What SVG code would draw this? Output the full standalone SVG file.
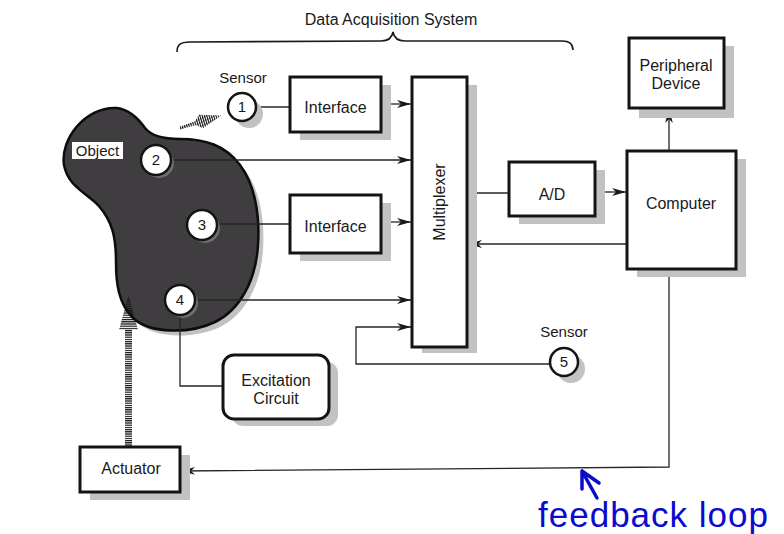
<svg xmlns="http://www.w3.org/2000/svg" width="784" height="534" viewBox="0 0 784 534">
  <style>
    .box { fill: #ffffff; stroke: #141414; stroke-width: 3; }
    .shadow { fill: #c2c2c2; }
    .node { fill: #ffffff; stroke: #141414; stroke-width: 2.5; }
    .lbl { font-family: "Liberation Sans", Arial, sans-serif; font-size: 16px; fill: #1a1a1a; text-anchor: middle; }
    .num { font-family: "Liberation Sans", Arial, sans-serif; font-size: 15px; fill: #1a1a1a; text-anchor: middle; }
    .wire { fill: none; stroke: #262626; stroke-width: 1.3; }
    .arrow { marker-end: url(#head); }
    .note { fill: #0b0bcf; }
  </style>
  <defs>
    <marker id="head" viewBox="0 0 14 9" refX="14" refY="4.5" markerWidth="14" markerHeight="9" markerUnits="userSpaceOnUse" orient="auto">
      <path d="M0,0.6 L14,4.5 L0,8.4 L4,4.5 Z" fill="#1a1a1a"/>
    </marker>
    <!-- fine horizontal hatching for the actuation arrow -->
    <pattern id="hstripe" width="4" height="2.2" patternUnits="userSpaceOnUse">
      <rect width="4" height="1.2" fill="#111111"/>
    </pattern>
    <!-- fine vertical hatching for the sensing arrow -->
    <pattern id="vstripe" width="2.2" height="4" patternUnits="userSpaceOnUse">
      <rect width="1.2" height="4" fill="#111111"/>
    </pattern>
  </defs>

  <rect width="784" height="534" fill="#ffffff"/>

  <!-- brace over the data acquisition blocks -->
  <g id="title">
    <text class="lbl" x="391" y="25">Data Acquisition System</text>
    <path d="M177,52 C177,45 180,42 190,42 L381,41 C388,41 392,38 393,32 C394,38 398,41 405,41 L562,41 C569,41 573,44 573,50" fill="none" stroke="#1a1a1a" stroke-width="1.6"/>
  </g>

  <!-- measured object with its sensor points -->
  <g id="object">
    <path transform="translate(5,5)" class="shadow" d="M117,108 C130,110 138,118 145,128 C152,137 165,139 180,139 C205,139 225,145 240,165 C255,185 260,215 258,245 C256,280 240,310 215,322 C190,334 150,334 133,318 C118,303 116,282 116,262 C116,238 113,222 98,205 C85,192 68,186 64,165 C60,140 85,106 117,108 Z"/>
    <path d="M117,108 C130,110 138,118 145,128 C152,137 165,139 180,139 C205,139 225,145 240,165 C255,185 260,215 258,245 C256,280 240,310 215,322 C190,334 150,334 133,318 C118,303 116,282 116,262 C116,238 113,222 98,205 C85,192 68,186 64,165 C60,140 85,106 117,108 Z" fill="#3f3d3f" stroke="#0d0d0d" stroke-width="2.5"/>
    <rect x="72" y="142" width="51" height="17" fill="#ffffff"/>
    <text class="lbl" x="97.5" y="156" style="font-size:15px">Object</text>
  </g>

  <!-- connectors -->
  <g id="connectors">
    <line class="wire" x1="256" y1="107" x2="290" y2="107"/>
    <line class="wire arrow" x1="381" y1="104" x2="411" y2="104"/>
    <line class="wire arrow" x1="171" y1="160" x2="411" y2="160"/>
    <line class="wire" x1="217" y1="224" x2="290" y2="224"/>
    <line class="wire arrow" x1="381" y1="222" x2="411" y2="222"/>
    <line class="wire arrow" x1="195" y1="300" x2="411" y2="300"/>
    <polyline class="wire" points="180,315 180,386 223,386"/>
    <polyline class="wire arrow" points="550,364 356,364 356,327 411,327"/>
    <line class="wire" x1="467" y1="193" x2="509" y2="193"/>
    <line class="wire arrow" x1="595" y1="192" x2="626" y2="192"/>
    <line class="wire arrow" x1="627" y1="244" x2="468" y2="244"/>
    <line class="wire arrow" x1="669" y1="151" x2="669" y2="109"/>
    <polyline class="wire arrow" points="669,269 669,467 181,471"/>
    <!-- hatched sensing arrow from the object towards sensor 1 -->
    <g transform="translate(180,128) rotate(-17)">
      <polygon points="0,-1.6 16,-1.8 22,-7 43,0 22,7 16,1.8 0,1.6" fill="url(#vstripe)"/>
    </g>
    <!-- hatched actuation arrow from the actuator into the object -->
    <g>
      <rect x="125" y="329" width="7" height="118" fill="url(#hstripe)"/>
      <polygon points="119,330 128.5,295 138,330" fill="url(#hstripe)"/>
    </g>
  </g>

  <g id="sensor-1">
    <text class="lbl" x="243" y="83" style="font-size:15px">Sensor</text>
    <circle class="shadow" cx="249" cy="114" r="14"/>
    <circle class="node" cx="242" cy="107" r="14"/>
    <text class="num" x="242" y="112">1</text>
  </g>
  <g id="sensor-2">
    <circle cx="159" cy="163" r="15" fill="#6e6e6e"/>
    <circle class="node" cx="156" cy="160" r="15"/>
    <text class="num" x="156" y="165">2</text>
  </g>
  <g id="sensor-3">
    <circle cx="205" cy="228" r="15" fill="#6e6e6e"/>
    <circle class="node" cx="202" cy="225" r="15"/>
    <text class="num" x="202" y="230">3</text>
  </g>
  <g id="sensor-4">
    <circle cx="183" cy="303" r="15" fill="#6e6e6e"/>
    <circle class="node" cx="180" cy="300" r="15"/>
    <text class="num" x="180" y="305">4</text>
  </g>
  <g id="sensor-5">
    <text class="lbl" x="564" y="337" style="font-size:15px">Sensor</text>
    <circle class="shadow" cx="571" cy="369" r="14"/>
    <circle class="node" cx="564" cy="362" r="14"/>
    <text class="num" x="564" y="367">5</text>
  </g>

  <g id="interface-1">
    <rect class="shadow" x="300" y="85" width="91" height="55"/>
    <rect class="box" x="290" y="77" width="91" height="55"/>
    <text class="lbl" x="335.5" y="113">Interface</text>
  </g>
  <g id="interface-2">
    <rect class="shadow" x="300" y="203" width="91" height="58"/>
    <rect class="box" x="290" y="195" width="91" height="58"/>
    <text class="lbl" x="335.5" y="232">Interface</text>
  </g>
  <g id="multiplexer">
    <rect class="shadow" x="422" y="85" width="55" height="268"/>
    <rect class="box" x="412" y="77" width="55" height="270"/>
    <text class="lbl" transform="translate(445,202) rotate(-90)" x="0" y="0">Multiplexer</text>
  </g>
  <g id="ad-converter">
    <rect class="shadow" x="519" y="170" width="86" height="54"/>
    <rect class="box" x="509" y="162" width="86" height="54"/>
    <text class="lbl" x="552" y="200">A/D</text>
  </g>
  <g id="computer">
    <rect class="shadow" x="637" y="159" width="109" height="118"/>
    <rect class="box" x="627" y="151" width="109" height="118"/>
    <text class="lbl" x="681" y="209">Computer</text>
  </g>
  <g id="peripheral-device">
    <rect class="shadow" x="639" y="46" width="95" height="72"/>
    <rect class="box" x="629" y="38" width="95" height="70"/>
    <text class="lbl" x="676" y="71">Peripheral</text>
    <text class="lbl" x="676" y="89">Device</text>
  </g>
  <g id="excitation-circuit">
    <rect class="shadow" x="232" y="362" width="106" height="64" rx="11"/>
    <rect class="box" x="223" y="355" width="106" height="64" rx="11"/>
    <text class="lbl" x="276" y="386">Excitation</text>
    <text class="lbl" x="276" y="404">Circuit</text>
  </g>
  <g id="actuator">
    <rect class="shadow" x="90" y="455" width="100" height="45"/>
    <rect class="box" x="80" y="447" width="100" height="45"/>
    <text class="lbl" x="131" y="474">Actuator</text>
  </g>

  <!-- annotation for the loop back to the actuator -->
  <g id="feedback-note">
    <path d="M597,498 L582,471 M582,471 L582,489 M582,471 L599,483" fill="none" stroke="#0b0bcf" stroke-width="3.5" stroke-linecap="round" stroke-linejoin="round"/>
    <text class="note" x="538" y="527" font-family="'Liberation Sans', Arial, sans-serif" font-size="35" textLength="230">feedback loop</text>
  </g>
</svg>
